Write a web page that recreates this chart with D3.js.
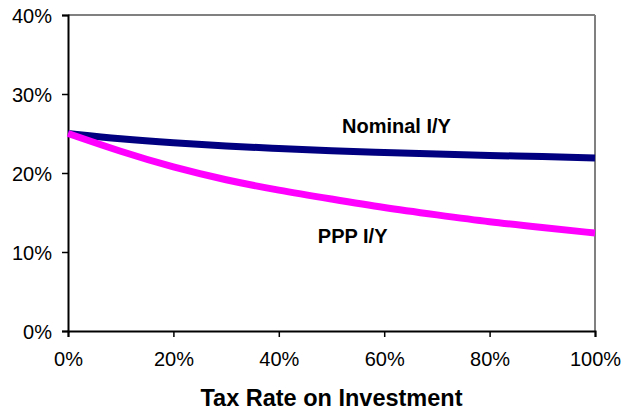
<!DOCTYPE html>
<html>
<head>
<meta charset="utf-8">
<script src="https://cdn.jsdelivr.net/npm/d3@7"></script>
<style>
  body { margin: 0; background: #fff; }
  text { font-family: Arial, "Liberation Sans", sans-serif; }
</style>
</head>
<body>
<div id="chart"></div>
<script>
// tax rate (fraction) and investment/output ratios
const taxRates = [0, 0.1, 0.2, 0.3, 0.4, 0.5, 0.6, 0.7, 0.8, 0.9, 1.0]
const nominalIY = [0.250, 0.243, 0.238, 0.234, 0.231, 0.228, 0.226, 0.224, 0.222, 0.221, 0.219]
const pppIY = [0.250, 0.227, 0.207, 0.191, 0.178, 0.167, 0.156, 0.147, 0.138, 0.131, 0.124]
const xTicks = [0, 0.2, 0.4, 0.6, 0.8, 1.0]
const yTicks = [0, 0.1, 0.2, 0.3, 0.4]
const seriesNames = ['Nominal I/Y', 'PPP I/Y']
const seriesColors = ['#000080', '#ff00ff']
// label anchor in data coordinates
const labelX = [0.52, 0.474]
const labelY = [0.251, 0.111]

const width = 625, height = 416
const margin = {top: 15, right: 30, bottom: 85, left: 68}
const w = width - margin.left - margin.right
const h = height - margin.top - margin.bottom

const svg = d3.select('#chart').append('svg')
    .attr('width', width)
    .attr('height', height)
const g = svg.append('g').attr('transform', `translate(${margin.left},${margin.top})`)

const x = d3.scaleLinear().domain([0, 1]).range([0, w])
const y = d3.scaleLinear().domain([0, 0.4]).range([h, 0])
const pct = d3.format('.0%')

// grey frame on top and right
g.append('line').attr('x1', 0).attr('x2', w).attr('y1', 0).attr('y2', 0)
    .attr('stroke', '#808080').attr('stroke-width', 2)
g.append('line').attr('x1', w).attr('x2', w).attr('y1', 0).attr('y2', h)
    .attr('stroke', '#808080').attr('stroke-width', 2)

const xAxis = g.append('g')
    .attr('transform', `translate(0,${h})`)
    .call(d3.axisBottom(x).tickValues(xTicks).tickFormat(pct).tickSize(6).tickPadding(15))
const yAxis = g.append('g')
    .call(d3.axisLeft(y).tickValues(yTicks).tickFormat(pct).tickSize(6).tickPadding(10))

for (const ax of [xAxis, yAxis]) {
    ax.select('.domain').attr('stroke', '#000').attr('stroke-width', 2)
    ax.selectAll('.tick line').attr('stroke', '#000').attr('stroke-width', 1.5)
    ax.selectAll('.tick text')
        .attr('fill', '#000')
        .style('font-size', '20px')
        .style('font-family', 'Arial, "Liberation Sans", sans-serif')
}
yAxis.selectAll('.tick text').attr('dy', '0.35em')

const series = [nominalIY, pppIY]
const line = d3.line()
    .x((d, i) => x(taxRates[i]))
    .y(d => y(d))
    .curve(d3.curveBasis)

series.forEach((vals, k) => {
    g.append('path')
        .datum(vals)
        .attr('fill', 'none')
        .attr('stroke', seriesColors[k])
        .attr('stroke-width', 7)
        .attr('d', line)
})

seriesNames.forEach((name, k) => {
    g.append('text')
        .attr('x', x(labelX[k]))
        .attr('y', y(labelY[k]))
        .style('font-size', '20px')
        .style('font-weight', 'bold')
        .attr('fill', '#000')
        .text(name)
})

svg.append('text')
    .attr('x', margin.left + w / 2)
    .attr('y', 406)
    .attr('text-anchor', 'middle')
    .style('font-size', '23.5px')
    .style('font-weight', 'bold')
    .attr('fill', '#000')
    .text('Tax Rate on Investment')
</script>
</body>
</html>
